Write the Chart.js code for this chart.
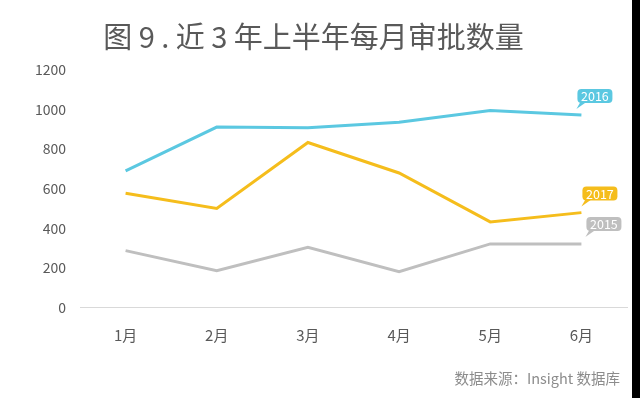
<!DOCTYPE html>
<html>
<head>
<meta charset="utf-8">
<script src="https://cdn.jsdelivr.net/npm/chart.js@4"></script>
<style>
  html, body { margin: 0; padding: 0; background: #000; }
  #wrap { width: 632px; height: 398px; background: #fff; }
</style>
</head>
<body>
<div id="wrap"><canvas id="chart" width="632" height="398"></canvas></div>
<script>
// --- data ---
const months = ['1月', '2月', '3月', '4月', '5月', '6月'];
const yearLabels = ['2016', '2017', '2015'];
const values2016 = [690, 911, 908, 935, 995, 972];
const values2017 = [577, 500, 833, 679, 432, 479];
const values2015 = [287, 186, 304, 181, 321, 321];
const yTicks = [0, 200, 400, 600, 800, 1000, 1200];

// --- colours ---
const colorBlue = '#5bc8e1';
const colorGold = '#f5bd1c';
const colorGray = '#bfbfbf';
const textColor = '#595959';
const fontFamily = '"Noto Sans CJK SC", "Noto Sans", sans-serif';
const sourceText = '数据来源：Insight 数据库';

// small speech-bubble labels at the end of each line, plus the source note
const calloutPlugin = {
  id: 'callouts',
  afterDatasetsDraw(chart) {
    const ctx = chart.ctx;
    chart.data.datasets.forEach((ds, i) => {
      const meta = chart.getDatasetMeta(i);
      const pt = meta.data[meta.data.length - 1];
      const c = ds.callout;
      const bx = pt.x + c.dx, by = pt.y + c.dy;
      const w = 35, h = 14, r = 4;
      ctx.save();
      ctx.fillStyle = ds.borderColor;
      ctx.beginPath();
      ctx.roundRect(bx, by, w, h, r);
      ctx.fill();
      // tail
      ctx.beginPath();
      ctx.moveTo(bx + 3, by + h - 1);
      ctx.lineTo(bx + 9, by + h - 1);
      ctx.lineTo(bx - 1, by + h + 6);
      ctx.closePath();
      ctx.fill();
      ctx.fillStyle = '#fff';
      ctx.font = '12.5px ' + fontFamily;
      ctx.textAlign = 'center';
      ctx.textBaseline = 'middle';
      ctx.fillText(ds.label, bx + w / 2, by + h / 2 + 0.5);
      ctx.restore();
    });
  },
  afterDraw(chart) {
    const ctx = chart.ctx;
    ctx.save();
    ctx.fillStyle = '#8c8c8c';
    ctx.font = '14.5px ' + fontFamily;
    ctx.textAlign = 'right';
    ctx.textBaseline = 'middle';
    ctx.fillText(sourceText, 620, 378);
    ctx.restore();
  }
};

new Chart(document.getElementById('chart'), {
  type: 'line',
  data: {
    labels: months,
    datasets: [
      { label: yearLabels[0], data: values2016, borderColor: colorBlue, callout: { dx: -4, dy: -26 } },
      { label: yearLabels[1], data: values2017, borderColor: colorGold, callout: { dx: 1, dy: -26 } },
      { label: yearLabels[2], data: values2015, borderColor: colorGray, callout: { dx: 5, dy: -27 } }
    ].map(d => Object.assign(d, {
      borderWidth: 3,
      pointRadius: 0,
      tension: 0,
      fill: false
    }))
  },
  options: {
    responsive: false,
    animation: false,
    layout: { padding: { left: 0, right: 5, top: 0, bottom: 0 } },
    plugins: {
      legend: { display: false },
      tooltip: { enabled: false },
      title: {
        display: true,
        text: '图 9 . 近 3 年上半年每月审批数量',
        color: textColor,
        font: { family: fontFamily, size: 29, weight: 'normal' },
        padding: { top: 20, bottom: 15 }
      }
    },
    scales: {
      x: {
        offset: true,
        grid: { display: false, drawTicks: false, offset: true },
        border: { display: true, color: '#d9d9d9', width: 1 },
        ticks: { color: textColor, font: { family: fontFamily, size: 15 }, padding: 19 },
        afterFit(scale) { scale.height = 90.5; }
      },
      y: {
        min: 0,
        max: 1200,
        afterBuildTicks(scale) { scale.ticks = yTicks.map(v => ({ value: v })); },
        grid: { display: false, drawTicks: false },
        border: { display: false },
        ticks: {
          color: textColor,
          font: { family: fontFamily, size: 14 },
          padding: 14,
          callback: v => String(v)
        },
        afterFit(scale) { scale.width = 80; }
      }
    }
  },
  plugins: [calloutPlugin]
});
</script>
</body>
</html>
